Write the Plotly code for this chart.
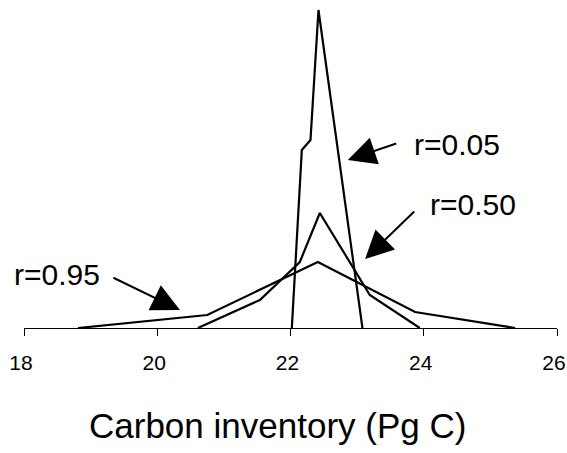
import plotly.graph_objects as go

# Data (carbon inventory in Pg C vs relative frequency, arbitrary units)
x_r005 = [22.02, 22.17, 22.30, 22.42, 23.08]
y_r005 = [0, 178, 188, 318, 0]

x_r050 = [20.61, 21.54, 22.14, 22.44, 23.19, 23.94]
y_r050 = [0, 28, 66, 115, 33, 0]

x_r095 = [18.81, 20.75, 22.41, 23.87, 25.37]
y_r095 = [0, 13, 66, 16, 0]

tick_vals = [18, 20, 22, 24, 26]
tick_text = ["18", "20", "22", "24", "26"]

series_labels = ["r=0.05", "r=0.50", "r=0.95"]

fig = go.Figure()
for xs, ys, name in [(x_r005, y_r005, series_labels[0]),
                     (x_r050, y_r050, series_labels[1]),
                     (x_r095, y_r095, series_labels[2])]:
    fig.add_trace(go.Scatter(x=xs, y=ys, mode="lines", name=name,
                             line=dict(color="black", width=2.2),
                             showlegend=False))

lab_font = dict(family="Liberation Sans, Arial, sans-serif", size=30, color="black")
annotations = [
    dict(x=24.50, y=184, text=series_labels[0], showarrow=False, font=lab_font),
    dict(x=24.74, y=124, text=series_labels[1], showarrow=False, font=lab_font),
    dict(x=18.50, y=54, text=series_labels[2], showarrow=False, font=lab_font),
]
arrows = [((23.61, 185), (22.86, 168)),
          ((23.88, 118), (23.12, 69)),
          ((19.32, 51), (20.34, 18))]
for (tx, ty), (hx, hy) in arrows:
    annotations.append(dict(x=hx, y=hy, ax=tx, ay=ty, axref="x", ayref="y",
                            xref="x", yref="y", text="", showarrow=True,
                            arrowhead=2, arrowsize=2.8, arrowwidth=2,
                            arrowcolor="black"))
annotations.append(dict(x=0.4765, y=-0.306, xref="paper", yref="paper",
                        text="Carbon inventory (Pg C)", showarrow=False,
                        xanchor="center", yanchor="middle",
                        font=dict(family="Liberation Sans, Arial, sans-serif",
                                  size=35, color="black")))

fig.update_layout(
    width=567, height=453,
    margin=dict(l=24, r=10, t=8, b=125),
    paper_bgcolor="white", plot_bgcolor="white",
    xaxis=dict(range=[18, 26], tickvals=tick_vals, ticktext=tick_text,
               showgrid=False, zeroline=False, showline=True,
               linecolor="black", linewidth=1, ticks="outside",
               ticklen=7, tickwidth=1, tickcolor="black", automargin=False,
               ticklabeloverflow="allow", ticklabelstandoff=9,
               ticklabelshift=-3,
               tickfont=dict(family="Liberation Sans, Arial, sans-serif",
                             size=21, color="black")),
    yaxis=dict(range=[0, 320], visible=False, automargin=False),
    annotations=annotations,
)

fig.write_html("out.html")
